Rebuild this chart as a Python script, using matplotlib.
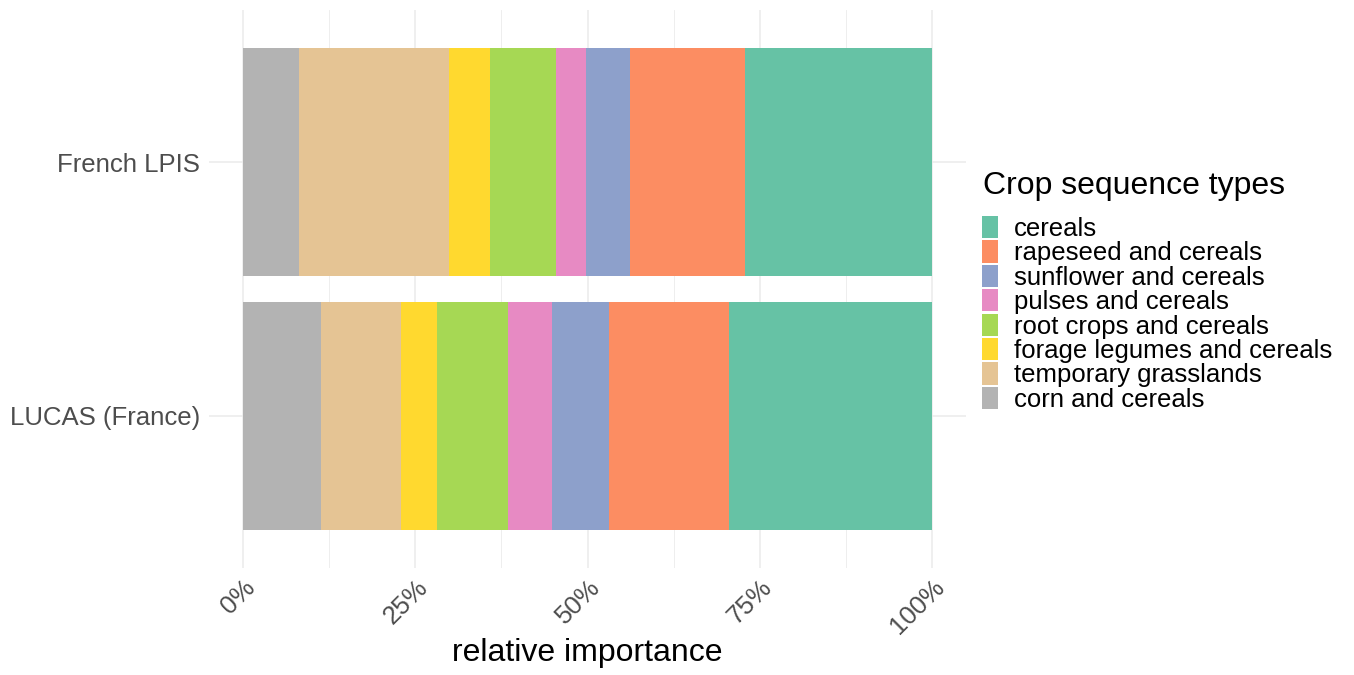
import matplotlib.pyplot as plt
from matplotlib.patches import Patch
from matplotlib.ticker import MultipleLocator, FuncFormatter
import numpy as np

plt.rcParams['font.family'] = ['Liberation Sans', 'DejaVu Sans']

# data (shares in %, stacked left to right)
sources = ['French LPIS', 'LUCAS (France)']
crop_types = ['corn and cereals', 'temporary grasslands', 'forage legumes and cereals',
              'root crops and cereals', 'pulses and cereals', 'sunflower and cereals',
              'rapeseed and cereals', 'cereals']
french_lpis = [8.2, 21.7, 5.9, 9.7, 4.3, 6.4, 16.7, 27.1]
lucas_france = [11.3, 11.6, 5.3, 10.3, 6.3, 8.3, 17.4, 29.5]
colors = ['#B3B3B3', '#E5C494', '#FFD92F', '#A6D854', '#E78AC3', '#8DA0CB', '#FC8D62', '#66C2A5']

values = np.array([french_lpis, lucas_france])
values = values / values.sum(axis=1, keepdims=True) * 100

fig = plt.figure(figsize=(13.54, 6.75), dpi=100)
ax = fig.add_axes([0.154, 0.1585, 0.5598, 0.8267])

ypos = np.arange(len(sources))
left = np.zeros(len(sources))
for j, name in enumerate(crop_types):
    ax.barh(ypos, values[:, j], left=left, height=0.9, color=colors[j], linewidth=0, zorder=2)
    left += values[:, j]

ax.set_xlim(-5, 105)
ax.set_ylim(1.6, -0.6)
ax.set_yticks(ypos)
ax.set_yticklabels(sources, fontsize=18.5, color='#4D4D4D')
ax.xaxis.set_major_locator(MultipleLocator(25))
ax.xaxis.set_minor_locator(MultipleLocator(12.5))
ax.xaxis.set_major_formatter(FuncFormatter(lambda v, p: f'{v:.0f}%'))
for lab in ax.get_xticklabels():
    lab.set_rotation(45)
    lab.set_ha('right')
    lab.set_va('top')
    lab.set_rotation_mode('anchor')
    lab.set_fontsize(18.5)
    lab.set_color('#4D4D4D')
ax.tick_params(axis='y', which='both', length=0, pad=6)
ax.tick_params(axis='x', which='both', length=0, pad=5)
ax.grid(True, which='major', color='#EBEBEB', linewidth=1.1, zorder=0)
ax.grid(True, which='minor', axis='x', color='#EBEBEB', linewidth=0.6, zorder=0)
ax.set_axisbelow(True)
for s in ax.spines.values():
    s.set_visible(False)
ax.set_xlabel('relative importance', fontsize=23, va='center')
ax.xaxis.set_label_coords(0.5, -0.152)

fig.text(983 / 1354, 1 - 186 / 675, 'Crop sequence types', fontsize=23, va='center', ha='left')
handles = [Patch(facecolor=colors[j], edgecolor='none', label=crop_types[j])
           for j in range(len(crop_types) - 1, -1, -1)]
leg = fig.legend(handles=handles, loc='upper left', bbox_to_anchor=(982 / 1354, 1 - 216 / 675),
                 frameon=False, fontsize=18.5, handlelength=0.62, handleheight=0.95,
                 labelspacing=-0.02, handletextpad=0.62, borderpad=0, borderaxespad=0)

fig.savefig('out.png', dpi=100)
